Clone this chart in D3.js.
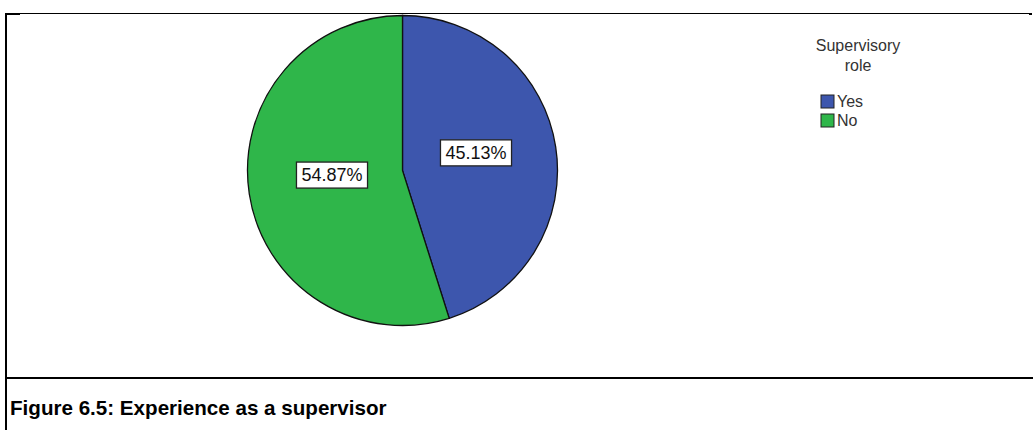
<!DOCTYPE html>
<html>
<head>
<meta charset="utf-8">
<script src="https://cdn.jsdelivr.net/npm/d3@7"></script>
<style>
  html, body { margin: 0; padding: 0; background: #fff; }
  svg { display: block; font-family: "Liberation Sans", Arial, sans-serif; }
</style>
</head>
<body>
<svg id="chart" width="1033" height="430"></svg>
<script>
// Supervisory role shares (percent)
const categories = ["Yes", "No"];
const percents = [45.13, 54.87];
const colors = ["#3d56ad", "#2fb64a"];
const legendTitle = ["Supervisory", "role"];
const caption = "Figure 6.5: Experience as a supervisor";

const svg = d3.select("#chart");
const W = 1033, H = 430;

// Frame: top rule, left rule, separator above the caption
svg.append("line").attr("x1", 5).attr("x2", 1031).attr("y1", 13.5).attr("y2", 13.5)
  .attr("stroke", "#000").attr("stroke-width", 1.2);
svg.append("rect").attr("x", 1029).attr("y", 13).attr("width", 3).attr("height", 2).attr("fill", "#000");
svg.append("rect").attr("x", 5).attr("y", 13).attr("width", 15).attr("height", 2).attr("fill", "#000");
svg.append("line").attr("x1", 6).attr("x2", 6).attr("y1", 13).attr("y2", H)
  .attr("stroke", "#000").attr("stroke-width", 2);
svg.append("line").attr("x1", 5).attr("x2", W).attr("y1", 378).attr("y2", 378)
  .attr("stroke", "#000").attr("stroke-width", 2);

// Pie
const cx = 402.5, cy = 170.5, r = 155;
const data = categories.map((c, i) => ({ cat: c, value: percents[i], color: colors[i] }));
const pie = d3.pie().value(d => d.value).sort(null);
const arcs = pie(data);
const arc = d3.arc().innerRadius(0).outerRadius(r);
const labelArc = d3.arc().innerRadius(0).outerRadius(r * 0.94);

const g = svg.append("g").attr("transform", `translate(${cx},${cy})`);
g.selectAll("path.slice").data(arcs).join("path")
  .attr("class", "slice")
  .attr("d", arc)
  .attr("fill", d => d.data.color)
  .attr("stroke", "#111")
  .attr("stroke-width", 1.3);

// Percentage labels in white boxes
const labels = g.selectAll("g.lbl").data(arcs).join("g")
  .attr("class", "lbl")
  .attr("transform", d => {
    const [x, y] = labelArc.centroid(d);
    return `translate(${x + 1.5},${y - 7})`;
  });
labels.append("text")
  .attr("text-anchor", "middle")
  .attr("dy", "0.36em")
  .attr("font-size", 18)
  .attr("fill", "#111")
  .text(d => d3.format(".2f")(d.data.value) + "%");
labels.each(function () {
  const t = d3.select(this).select("text");
  const b = t.node().getBBox();
  d3.select(this).insert("rect", "text")
    .attr("x", b.x - 5).attr("y", b.y - 3)
    .attr("width", b.width + 10).attr("height", b.height + 6)
    .attr("fill", "#fff").attr("stroke", "#222").attr("stroke-width", 1.3);
});

// Legend
const lg = svg.append("g").attr("transform", "translate(858,0)");
lg.selectAll("text.title").data(legendTitle).join("text")
  .attr("class", "title")
  .attr("x", 0).attr("y", (d, i) => 51 + i * 20)
  .attr("text-anchor", "middle")
  .attr("font-size", 16)
  .attr("fill", "#333")
  .text(d => d);
const items = lg.selectAll("g.item").data(data).join("g")
  .attr("class", "item")
  .attr("transform", (d, i) => `translate(-37,${95 + i * 19})`);
items.append("rect").attr("width", 13).attr("height", 13)
  .attr("fill", d => d.color).attr("stroke", "#222").attr("stroke-width", 1);
items.append("text").attr("x", 16).attr("y", 12)
  .attr("font-size", 16).attr("fill", "#333")
  .text(d => d.cat);

// Caption
svg.append("text").attr("x", 10).attr("y", 415)
  .attr("font-size", 20.6).attr("font-weight", "bold").attr("fill", "#000")
  .text(caption);
</script>
</body>
</html>
